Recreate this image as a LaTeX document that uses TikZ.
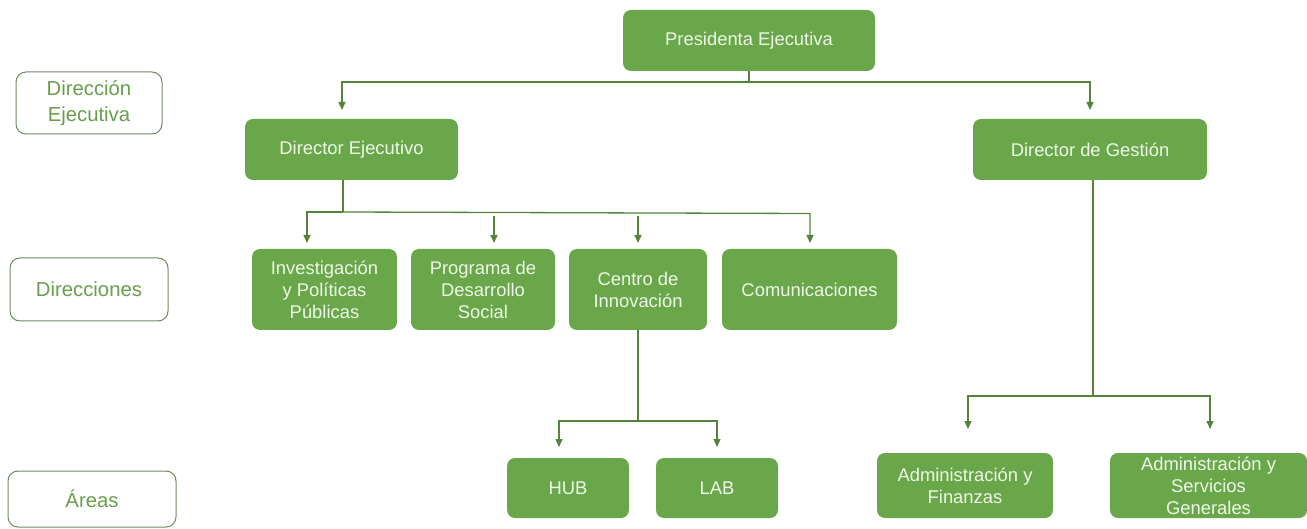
\documentclass[tikz,border=0pt]{standalone}
\usepackage{fontspec}
\setmainfont{Liberation Sans}
\usetikzlibrary{arrows.meta}
\definecolor{boxgreen}{RGB}{106,167,75}
\definecolor{boxtext}{RGB}{238,248,232}
\definecolor{linegreen}{RGB}{84,132,60}
\definecolor{lblborder}{RGB}{112,138,100}
\definecolor{lbltext}{RGB}{104,158,76}
\begin{document}
\begin{tikzpicture}[x=1pt,y=-1pt,
  unitbox/.style={fill=boxgreen,draw=none,rounded corners=8pt,text=boxtext,align=center,
    font=\fontsize{18.4}{22}\selectfont,inner sep=0pt},
  lblbox/.style={draw=lblborder,line width=1pt,fill=white,rounded corners=10pt,text=lbltext,align=center,
    font=\fontsize{20.3}{25.5}\selectfont,inner sep=0pt},
  conn/.style={draw=linegreen,line width=1.3pt},
  arr/.style={conn,-{Triangle[width=7pt,length=8pt]}}]
\useasboundingbox (0,0) rectangle (1307,529);
% level labels
\node[lblbox,minimum width=146pt,minimum height=62pt] (l1) at (89,103) {Dirección\\Ejecutiva};
\node[lblbox,minimum width=158pt,minimum height=63pt] (l2) at (89,289.5) {Direcciones};
\node[lblbox,minimum width=168pt,minimum height=56pt] (l3) at (92,499) {Áreas};
% boxes
\node[unitbox,minimum width=252pt,minimum height=61pt] (pres) at (749,40.5) {Presidenta Ejecutiva};
\node[unitbox,minimum width=213pt,minimum height=61pt] (dej) at (351.5,149.5) {Director Ejecutivo};
\node[unitbox,minimum width=234pt,minimum height=61pt] (dges) at (1090,149.5) {Director de Gestión};
\node[unitbox,minimum width=145pt,minimum height=81pt] (inv) at (324.5,289.5) {Investigación\\y Políticas\\Públicas};
\node[unitbox,minimum width=144pt,minimum height=81pt] (prog) at (483,289.5) {Programa de\\Desarrollo\\Social};
\node[unitbox,minimum width=138pt,minimum height=81pt] (cen) at (638,289.5) {Centro de\\Innovación};
\node[unitbox,minimum width=175pt,minimum height=81pt] (com) at (809.5,289.5) {Comunicaciones};
\node[unitbox,minimum width=122pt,minimum height=60pt] (hub) at (568,488) {HUB};
\node[unitbox,minimum width=122pt,minimum height=60pt] (lab) at (717,488) {LAB};
\node[unitbox,minimum width=176pt,minimum height=65pt] (adf) at (965,485.5) {Administración y\\Finanzas};
\node[unitbox,minimum width=197pt,minimum height=65pt] (asg) at (1208.5,485.5) {Administración y\\Servicios\\Generales};
% connectors: top
\coordinate (j1) at (749,82);
\draw[conn] (pres.south -| j1) -- (j1);
\draw[arr] (j1) -- (342,82) -- (342,110);
\draw[arr] (j1) -- (1090,82) -- (1090,110);
% from Director Ejecutivo
\coordinate (j2) at (343,212);
\draw[conn] (dej.south -| j2) -- (j2);
\draw[arr] (j2) -- (307,212) -- (307,243);
\draw[arr] (j2) -- (810,213.5) -- (810,243);
\draw[arr] (494,216) -- (494,243);
\draw[arr] (638,216) -- (638,243);
% from Centro
\coordinate (j3) at (638,421);
\draw[conn] (cen.south) -- (j3);
\draw[arr] (j3) -- (559,421) -- (559,447);
\draw[arr] (j3) -- (717,421) -- (717,447);
% from Director de Gestion
\coordinate (j4) at (1093,396);
\draw[conn] (dges.south -| j4) -- (j4);
\draw[arr] (j4) -- (968,396) -- (968,429);
\draw[arr] (j4) -- (1210,396) -- (1210,429);
\end{tikzpicture}
\end{document}
